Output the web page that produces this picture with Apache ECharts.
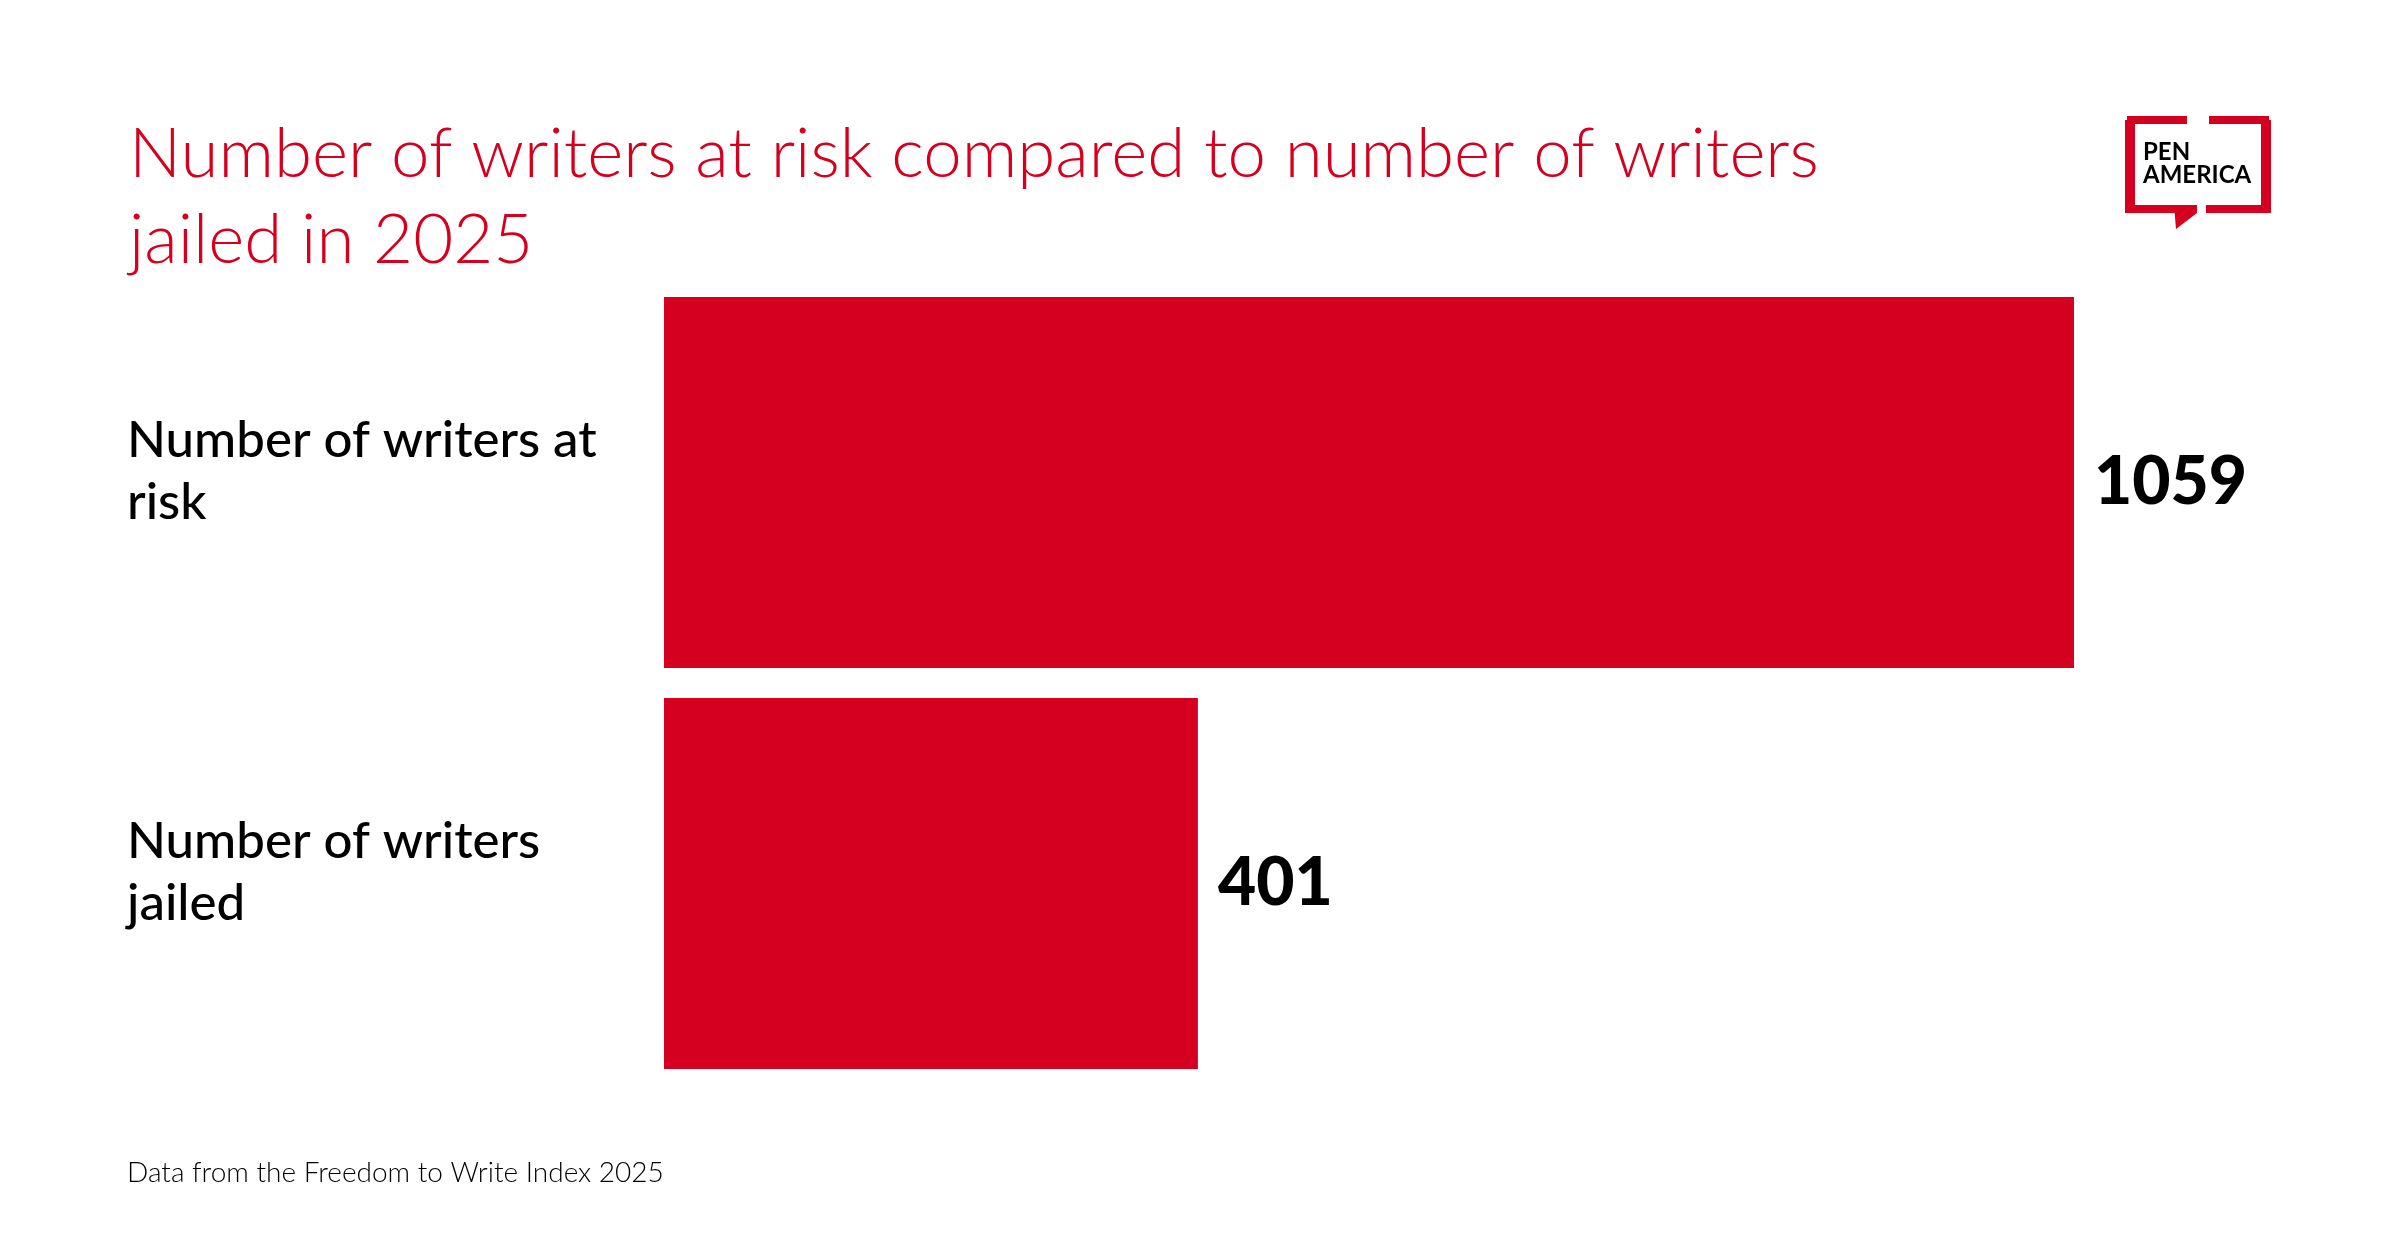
<!DOCTYPE html>
<html>
<head>
<meta charset="utf-8">
<script src="https://cdn.jsdelivr.net/npm/echarts@6/dist/echarts.min.js"></script>
<style>
  html, body { margin: 0; padding: 0; background: #fff; }
  #chart { width: 2400px; height: 1260px; }
</style>
</head>
<body>
<div id="chart"></div>
<script>
    var categories = ['Number of writers at risk', 'Number of writers jailed'];
    var writerCounts = [1059, 401];

    var red = '#D5001F';

    var chart = echarts.init(document.getElementById('chart'));
    chart.setOption({
        backgroundColor: '#ffffff',
        animation: false,
        title: {
            text: 'Number of writers at risk compared to number of writers\njailed in 2025',
            left: 124,
            top: 107,
            textStyle: {
                color: red,
                fontFamily: 'Lato',
                fontWeight: 300,
                fontSize: 69,
                lineHeight: 86
            }
        },
        // bars live in grid 0; grid 1 only carries the category labels, a bit higher
        grid: [
            { left: 664, right: 326, top: 282, bottom: 176 },
            { left: 664, right: 326, top: 271, bottom: 187 }
        ],
        xAxis: [
            { type: 'value', min: 0, max: 1059, show: false, gridIndex: 0 },
            { type: 'value', min: 0, max: 1059, show: false, gridIndex: 1 }
        ],
        yAxis: [
            {
                type: 'category',
                gridIndex: 0,
                inverse: true,
                data: categories,
                show: false
            },
            {
                type: 'category',
                gridIndex: 1,
                inverse: true,
                data: categories,
                axisLine: { show: false },
                axisTick: { show: false },
                axisLabel: {
                    align: 'left',
                    margin: 537,
                    width: 520,
                    overflow: 'break',
                    color: '#000',
                    fontFamily: 'Lato',
                    fontWeight: 500,
                    fontSize: 51,
                    lineHeight: 62
                }
            }
        ],
        series: [{
            type: 'bar',
            xAxisIndex: 0,
            yAxisIndex: 0,
            data: writerCounts,
            barCategoryGap: '7.5%',
            itemStyle: { color: red },
            label: {
                show: true,
                position: 'right',
                distance: 20,
                color: '#000',
                fontFamily: 'Lato',
                fontWeight: 900,
                fontSize: 66
            }
        }],
        graphic: [
            {
                type: 'text',
                left: 127,
                top: 1159,
                style: {
                    text: 'Data from the Freedom to Write Index 2025',
                    fill: '#000',
                    font: '300 28px Lato'
                }
            },
            // logo frame
            { type: 'rect', shape: { x: 2127, y: 116, width: 60, height: 8 }, style: { fill: red } },
            { type: 'rect', shape: { x: 2209, y: 116, width: 60, height: 8 }, style: { fill: red } },
            { type: 'rect', shape: { x: 2125, y: 120, width: 10, height: 93 }, style: { fill: red } },
            { type: 'rect', shape: { x: 2261, y: 120, width: 10, height: 93 }, style: { fill: red } },
            { type: 'rect', shape: { x: 2125, y: 205, width: 72, height: 8 }, style: { fill: red } },
            { type: 'rect', shape: { x: 2206, y: 205, width: 65, height: 8 }, style: { fill: red } },
            {
                type: 'polygon',
                shape: { points: [[2174, 205], [2197, 205], [2197, 213], [2176, 229]] },
                style: { fill: red }
            },
            {
                type: 'text',
                left: 2143,
                top: 140,
                style: { text: 'PEN', fill: '#000', font: '700 24px Lato' }
            },
            {
                type: 'text',
                left: 2143,
                top: 163,
                style: { text: 'AMERICA', fill: '#000', font: '700 24px Lato' }
            }
        ]
    });
</script>
</body>
</html>
